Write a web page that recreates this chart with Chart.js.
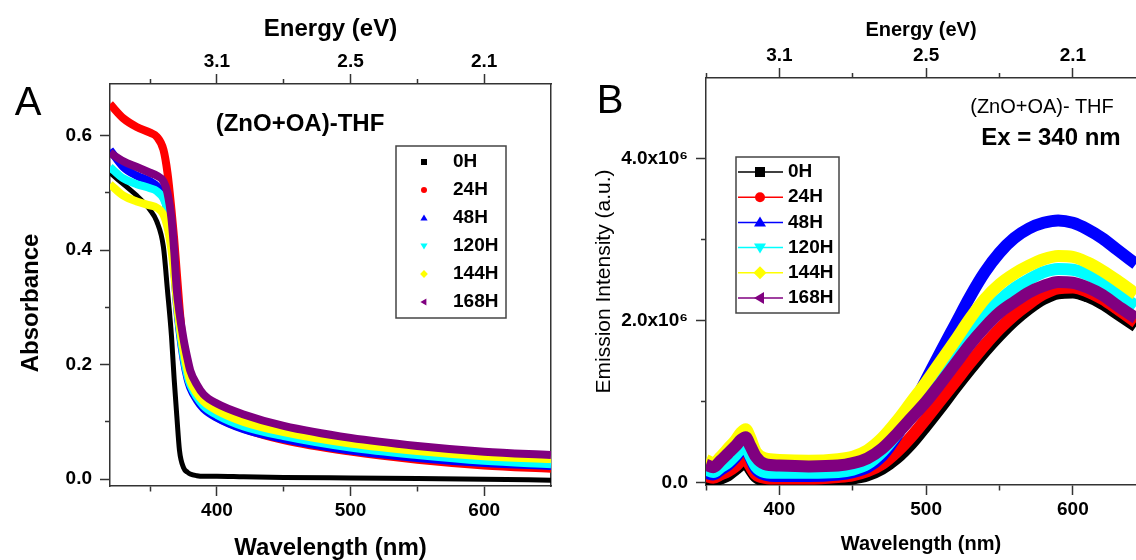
<!DOCTYPE html>
<html>
<head>
<meta charset="utf-8">
<script src="https://cdn.jsdelivr.net/npm/chart.js@4.4.1/dist/chart.umd.min.js"></script>
<style>
html, body { margin: 0; padding: 0; background: #fff; }
#wrap { position: relative; width: 1136px; height: 560px; overflow: hidden; font-family: "Liberation Sans", Arial, sans-serif; }
.pane { position: absolute; top: 0; width: 568px; height: 560px; }
.lbl { position: absolute; white-space: nowrap; color: #000; line-height: normal; transform: translate(-50%, -50%); }
</style>
</head>
<body>
<div id="wrap">
  <div class="pane" style="left:0"><canvas id="chartA" width="568" height="560"></canvas></div>
  <div class="pane" style="left:568px"><canvas id="chartB" width="568" height="560"></canvas></div>

  <div class="lbl" style="left:28px;top:101px;font-size:40px;">A</div>
  <div class="lbl" style="left:30px;top:303px;font-size:24px;font-weight:bold;transform:translate(-50%,-50%) rotate(-90deg);">Absorbance</div>
  <div class="lbl" style="left:300px;top:123px;font-size:24px;font-weight:bold;">(ZnO+OA)-THF</div>

  <div class="lbl" style="left:610px;top:99px;font-size:40px;">B</div>
  <div class="lbl" style="left:1042px;top:106px;font-size:20px;">(ZnO+OA)- THF</div>
  <div class="lbl" style="left:1051px;top:137px;font-size:24px;font-weight:bold;">Ex = 340 nm</div>
</div>

<script>
// ---- data ----
var seriesNames = ["0H", "24H", "48H", "120H", "144H", "168H"];
var seriesColors = ["#000000", "#ff0000", "#0000ff", "#00ffff", "#ffff00", "#800080"];
var markerStyles = ["rect", "circle", "triangle", "triangle", "rectRot", "triangle"];
var markerRot = [0, 0, 0, 180, 0, 270];

// panel A : absorbance
var wlA = [320, 330, 340, 350, 355, 360, 363, 366, 368, 370, 372, 375, 378, 380, 385, 390, 400, 420, 450, 500, 550, 600, 650];
var abs0H   = [0.535, 0.515, 0.495, 0.47, 0.45, 0.405, 0.33, 0.25, 0.175, 0.11, 0.05, 0.02, 0.012, 0.009, 0.006, 0.005, 0.005, 0.004, 0.003, 0.002, 0.001, 0.0, -0.002];
var abs24H  = [0.655, 0.63, 0.615, 0.605, 0.598, 0.575, 0.535, 0.47, 0.42, 0.36, 0.3, 0.225, 0.18, 0.163, 0.14, 0.126, 0.108, 0.088, 0.068, 0.048, 0.034, 0.024, 0.018];
var abs48H  = [0.575, 0.545, 0.53, 0.52, 0.512, 0.495, 0.47, 0.42, 0.37, 0.305, 0.26, 0.21, 0.175, 0.16, 0.138, 0.123, 0.107, 0.087, 0.07, 0.05, 0.037, 0.028, 0.023];
var abs120H = [0.545, 0.525, 0.515, 0.508, 0.503, 0.49, 0.47, 0.42, 0.37, 0.31, 0.265, 0.215, 0.18, 0.165, 0.143, 0.128, 0.112, 0.092, 0.075, 0.055, 0.042, 0.032, 0.026];
var abs144H = [0.515, 0.495, 0.485, 0.478, 0.474, 0.462, 0.44, 0.4, 0.36, 0.31, 0.27, 0.225, 0.19, 0.172, 0.15, 0.136, 0.12, 0.1, 0.082, 0.062, 0.049, 0.04, 0.035];
var abs168H = [0.57, 0.555, 0.545, 0.535, 0.53, 0.52, 0.5, 0.455, 0.4, 0.33, 0.29, 0.245, 0.21, 0.19, 0.165, 0.148, 0.132, 0.113, 0.093, 0.072, 0.058, 0.048, 0.042];

// panel B : emission intensity, in units of 10^6
var wlB = [350, 355, 360, 365, 370, 374, 377, 380, 384, 390, 400, 420, 440, 450, 460, 470, 480, 490, 500, 510, 520, 530, 540, 550, 560, 570, 580, 590, 600, 610, 620, 630, 643];
var em0H   = [0.03, 0.02, 0.05, 0.09, 0.16, 0.22, 0.25, 0.17, 0.07, 0.02, 0.01, 0.01, 0.03, 0.05, 0.09, 0.17, 0.3, 0.48, 0.7, 0.93, 1.17, 1.4, 1.62, 1.82, 2.0, 2.15, 2.27, 2.34, 2.35, 2.3, 2.21, 2.09, 1.93];
var em24H  = [0.08, 0.06, 0.1, 0.14, 0.2, 0.27, 0.3, 0.21, 0.1, 0.06, 0.05, 0.05, 0.07, 0.09, 0.14, 0.23, 0.38, 0.57, 0.79, 1.02, 1.25, 1.48, 1.7, 1.9, 2.07, 2.21, 2.33, 2.4, 2.41, 2.36, 2.27, 2.15, 1.98];
var em48H  = [0.12, 0.1, 0.16, 0.22, 0.31, 0.4, 0.44, 0.32, 0.17, 0.1, 0.08, 0.08, 0.1, 0.13, 0.19, 0.33, 0.58, 0.92, 1.27, 1.62, 1.96, 2.3, 2.6, 2.84, 3.02, 3.14, 3.21, 3.24, 3.21, 3.13, 3.02, 2.88, 2.7];
var em120H = [0.16, 0.13, 0.19, 0.25, 0.34, 0.42, 0.45, 0.34, 0.2, 0.13, 0.12, 0.12, 0.13, 0.16, 0.23, 0.38, 0.6, 0.85, 1.1, 1.35, 1.6, 1.85, 2.07, 2.25, 2.4, 2.51, 2.6, 2.64, 2.63, 2.57, 2.47, 2.35, 2.18];
var em144H = [0.28, 0.24, 0.32, 0.42, 0.52, 0.62, 0.66, 0.56, 0.38, 0.3, 0.28, 0.27, 0.29, 0.32, 0.4, 0.55, 0.76, 1.0, 1.24, 1.5, 1.76, 2.03, 2.27, 2.45, 2.58, 2.68, 2.76, 2.8, 2.79, 2.72, 2.62, 2.5, 2.33];
var em168H = [0.22, 0.19, 0.27, 0.36, 0.45, 0.53, 0.56, 0.46, 0.32, 0.23, 0.21, 0.2, 0.21, 0.24, 0.3, 0.42, 0.6, 0.8, 1.0, 1.23, 1.47, 1.71, 1.92, 2.1, 2.23, 2.35, 2.43, 2.48, 2.47, 2.41, 2.32, 2.19, 2.03];

// ticks
var nmTicks = [350, 400, 450, 500, 550, 600];
var nmLabels = [400, 500, 600];
var eVLabels = ["3.1", "2.5", "2.1"];          // energy shown above 400, 500, 600 nm
var absTicks = [0, 0.1, 0.2, 0.3, 0.4, 0.5, 0.6];
var absLabels = [0, 0.2, 0.4, 0.6];
var emTicks = [0, 1e6, 2e6, 3e6, 4e6];
var emLabelVals = [0, 2e6, 4e6];
var emLabelText = ["0.0", "2.0x10\u2076", "4.0x10\u2076"];

var FONT = "'Liberation Sans', Arial, Helvetica, sans-serif";
var AX = "#333";

function pts(xs, ys, k) {
    return xs.map(function (x, i) { return { x: x, y: ys[i] * (k || 1) }; });
}

// minor ticks are drawn shorter via a dash pattern
function tickDash(majors, outerFirst) {
    return function (c) {
        if (!c.tick || majors.indexOf(c.tick.value) >= 0) return [];
        return outerFirst ? [0, 5, 5, 50] : [5, 50];
    };
}

function hAxis(o) {
    return {
        type: "linear", position: o.pos, min: o.min, max: o.max,
        afterBuildTicks: function (s) { s.ticks = nmTicks.map(function (v) { return { value: v }; }); },
        afterFit: function (s) { s.height = o.size; },
        ticks: { autoSkip: false, maxRotation: 0, color: "#000", padding: o.pad,
                 font: { family: FONT, size: 19, weight: "bold" }, callback: o.label },
        grid: { drawOnChartArea: false, tickLength: 10, tickColor: AX, tickWidth: 1.5,
                tickBorderDash: tickDash(nmLabels, o.pos === "top") },
        border: { color: AX, width: 1.5 },
        title: { display: true, text: o.title, color: "#000", font: o.tfont, padding: o.tpad }
    };
}

function nmLabel(v) { return nmLabels.indexOf(v) >= 0 ? String(v) : ""; }
function eVLabel(v) { var i = nmLabels.indexOf(v); return i >= 0 ? eVLabels[i] : ""; }

function drawMarker(ctx, style, rot, r, x, y) {
    ctx.save();
    ctx.translate(x, y);
    ctx.rotate(rot * Math.PI / 180);
    ctx.beginPath();
    if (style === "rect") ctx.rect(-r, -r, 2 * r, 2 * r);
    else if (style === "circle") ctx.arc(0, 0, r, 0, 2 * Math.PI);
    else if (style === "rectRot") { ctx.moveTo(0, -r * 1.3); ctx.lineTo(r * 1.3, 0); ctx.lineTo(0, r * 1.3); ctx.lineTo(-r * 1.3, 0); ctx.closePath(); }
    else { ctx.moveTo(0, -r * 1.2); ctx.lineTo(r * 1.2, r * 0.8); ctx.lineTo(-r * 1.2, r * 0.8); ctx.closePath(); }
    ctx.fill();
    ctx.restore();
}

// boxed legend inside the plot area
var boxLegend = {
    id: "boxLegend",
    afterDraw: function (chart, args, o) {
        var ctx = chart.ctx;
        ctx.save();
        ctx.fillStyle = "#fff";
        ctx.fillRect(o.x, o.y, o.w, o.h);
        ctx.strokeStyle = "#444";
        ctx.lineWidth = 1.5;
        ctx.strokeRect(o.x, o.y, o.w, o.h);
        ctx.font = "bold " + o.fs + "px " + FONT;
        ctx.textBaseline = "middle";
        chart.data.datasets.forEach(function (ds, i) {
            var y = o.y0 + i * o.step;
            if (o.line) {
                ctx.strokeStyle = ds.borderColor;
                ctx.lineWidth = 1.5;
                ctx.beginPath();
                ctx.moveTo(o.lx0, y);
                ctx.lineTo(o.lx1, y);
                ctx.stroke();
            }
            ctx.fillStyle = ds.borderColor;
            drawMarker(ctx, ds.pointStyle, ds.pointRotation, o.r, o.mx, y);
            ctx.fillStyle = "#000";
            ctx.fillText(ds.label, o.tx, y);
        });
        ctx.restore();
    }
};

var absSeries = [abs0H, abs24H, abs48H, abs120H, abs144H, abs168H];
var emSeries = [em0H, em24H, em48H, em120H, em144H, em168H];

var chartA = new Chart(document.getElementById("chartA"), {
    type: "line",
    data: {
        datasets: seriesNames.map(function (n, i) {
            return {
                label: n, data: pts(wlA, absSeries[i]),
                borderColor: seriesColors[i], backgroundColor: seriesColors[i],
                borderWidth: i === 0 ? 5 : 8, pointRadius: 0,
                pointStyle: markerStyles[i], pointRotation: markerRot[i],
                cubicInterpolationMode: "monotone", order: 5 - i, clip: 0
            };
        })
    },
    options: {
        responsive: false, animation: false, events: [],
        layout: { padding: 0 },
        plugins: {
            legend: { display: false }, tooltip: { enabled: false },
            boxLegend: { x: 396, y: 146, w: 110, h: 172, y0: 162, step: 28, mx: 424, r: 3, tx: 453, fs: 19, line: false }
        },
        scales: {
            x: hAxis({ pos: "bottom", min: 320, max: 650, size: 74, pad: 3, label: nmLabel,
                       title: "Wavelength (nm)", tfont: { family: FONT, size: 24, weight: "bold" },
                       tpad: { top: 0, bottom: -3 } }),
            x2: hAxis({ pos: "top", min: 320, max: 650, size: 84, pad: 1, label: eVLabel,
                        title: "Energy (eV)", tfont: { family: FONT, size: 24, weight: "bold" },
                        tpad: { top: 15, bottom: 0 } }),
            y: {
                type: "linear", position: "left", min: -0.012, max: 0.69,
                afterBuildTicks: function (s) { s.ticks = absTicks.map(function (v) { return { value: v }; }); },
                afterFit: function (s) { s.width = 110; },
                ticks: { color: "#000", padding: 8, font: { family: FONT, size: 19, weight: "bold" },
                         callback: function (v) { return absLabels.indexOf(v) >= 0 ? v.toFixed(1) : ""; } },
                grid: { drawOnChartArea: false, tickLength: 10, tickColor: AX, tickWidth: 1.5,
                        tickBorderDash: tickDash(absLabels, true) },
                border: { color: AX, width: 1.5 }
            },
            yR: {
                type: "linear", position: "right",
                afterFit: function (s) { s.width = 17; },
                ticks: { display: false },
                grid: { drawOnChartArea: false, drawTicks: false },
                border: { color: AX, width: 1.5 }
            }
        }
    },
    plugins: [boxLegend]
});

var chartB = new Chart(document.getElementById("chartB"), {
    type: "line",
    data: {
        datasets: seriesNames.map(function (n, i) {
            return {
                label: n, data: pts(wlB, emSeries[i], 1e6),
                borderColor: seriesColors[i], backgroundColor: seriesColors[i],
                borderWidth: 12, pointRadius: 0,
                pointStyle: markerStyles[i], pointRotation: markerRot[i],
                cubicInterpolationMode: "monotone", order: 5 - i, clip: 0
            };
        })
    },
    options: {
        responsive: false, animation: false, events: [],
        layout: { padding: 0 },
        plugins: {
            legend: { display: false }, tooltip: { enabled: false },
            boxLegend: { x: 168, y: 157, w: 103, h: 156, y0: 172, step: 25.2, mx: 192, r: 5, tx: 220, fs: 19,
                         line: true, lx0: 170, lx1: 215 }
        },
        scales: {
            x: hAxis({ pos: "bottom", min: 350, max: 643, size: 75, pad: 3, label: nmLabel,
                       title: "Wavelength (nm)", tfont: { family: FONT, size: 20, weight: "bold" },
                       tpad: { top: 0, bottom: 4 } }),
            x2: hAxis({ pos: "top", min: 350, max: 643, size: 78, pad: 1, label: eVLabel,
                        title: "Energy (eV)", tfont: { family: FONT, size: 20, weight: "bold" },
                        tpad: { top: 18, bottom: 0 } }),
            y: {
                type: "linear", position: "left", min: -0.03e6, max: 5e6,
                afterBuildTicks: function (s) { s.ticks = emTicks.map(function (v) { return { value: v }; }); },
                afterFit: function (s) { s.width = 138; },
                ticks: { color: "#000", padding: 8, font: { family: FONT, size: 19, weight: "bold" },
                         callback: function (v) { var i = emLabelVals.indexOf(v); return i >= 0 ? emLabelText[i] : ""; } },
                grid: { drawOnChartArea: false, tickLength: 10, tickColor: AX, tickWidth: 1.5,
                        tickBorderDash: tickDash(emLabelVals, true) },
                border: { color: AX, width: 1.5 },
                title: { display: true, text: "Emission Intensity (a.u.)", color: "#000",
                         font: { family: FONT, size: 21, weight: "normal" }, padding: { top: 24, bottom: 0 } }
            }
        }
    },
    plugins: [boxLegend]
});
</script>
</body>
</html>
